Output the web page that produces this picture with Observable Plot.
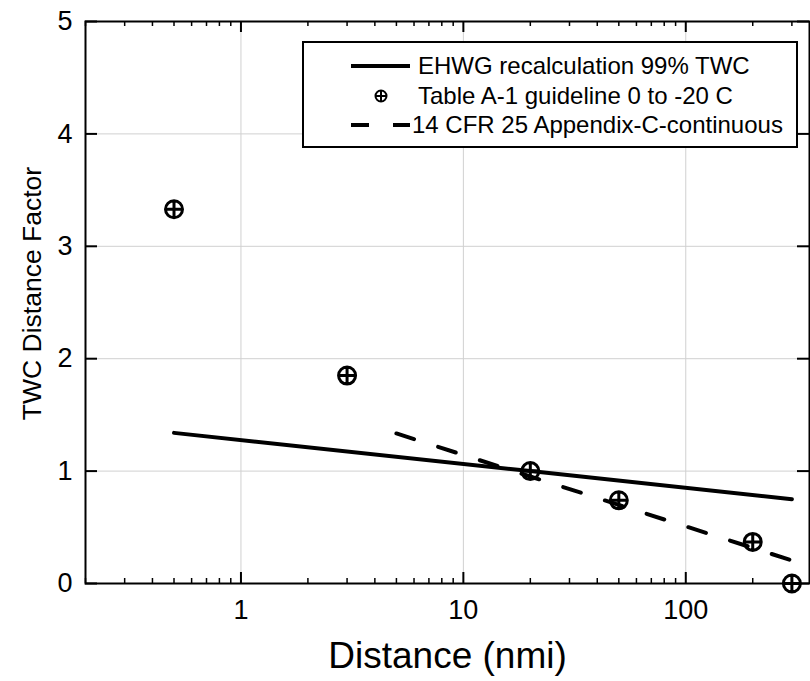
<!DOCTYPE html>
<html><head><meta charset="utf-8">
<script src="https://cdn.jsdelivr.net/npm/d3@7"></script>
<script src="https://cdn.jsdelivr.net/npm/@observablehq/plot@0.6"></script>
<style>
body{margin:0;background:#fff;font-family:"Liberation Sans",Arial,sans-serif;}
#wrap{position:relative;width:810px;height:681px;overflow:hidden;}
#legend{position:absolute;left:302px;top:41px;width:496px;height:107px;border:2px solid #000;background:#fff;box-sizing:border-box;}
#legend svg{display:block;}
</style></head><body>
<div id="wrap"><div id="chart"></div><div id="legend"></div></div>
<script>
// ---- data ----
const seriesNames = ["EHWG recalculation 99% TWC", "Table A-1 guideline 0 to -20 C", "14 CFR 25 Appendix-C-continuous"];
const ehwgDistance = [0.5, 20, 300];
const ehwgFactor = [1.34, 1.0, 0.75];
const tableDistance = [0.5, 3, 20, 50, 200, 300];
const tableFactor = [3.33, 1.85, 1.0, 0.74, 0.37, 0];
const appCDistance = [5, 20, 300];
const appCFactor = [1.335, 0.952, 0.205];
const xMajorTicks = [1, 10, 100];
const yTicks = [0, 1, 2, 3, 4, 5];
const yGrid = [1, 2, 3, 4];
const xTitle = "Distance (nmi)";
const yTitle = "TWC Distance Factor";

const ehwg = ehwgDistance.map((d, i) => ({distance: d, factor: ehwgFactor[i]}));
const table = tableDistance.map((d, i) => ({distance: d, factor: tableFactor[i]}));
const appC = appCDistance.map((d, i) => ({distance: d, factor: appCFactor[i]}));

const W = 810, H = 681, mL = 85, mR = 1, mT = 21, mB = 98;
const plotW = W - mL - mR, plotH = H - mT - mB;
const xDomain = [0.2, 360];
const xMinorTicks = d3.scaleLog().domain(xDomain).ticks().filter(t => !xMajorTicks.includes(t));

const circlePlus = {
  draw(ctx, size) {
    const r = Math.sqrt(size / Math.PI);
    ctx.moveTo(r, 0); ctx.arc(0, 0, r, 0, 2 * Math.PI);
    ctx.moveTo(-r, 0); ctx.lineTo(r, 0);
    ctx.moveTo(0, -r); ctx.lineTo(0, r);
  }
};
const lineW = 4, dash = "18.5,25.3";
const font = "'Liberation Sans', Arial, sans-serif";

const chart = Plot.plot({
  width: W, height: H,
  marginLeft: mL, marginRight: mR, marginTop: mT, marginBottom: mB,
  style: {fontFamily: font, background: "white", color: "black"},
  x: {type: "log", domain: xDomain, axis: null},
  y: {domain: [0, 5], axis: null},
  marks: [
    Plot.ruleX(xMajorTicks, {x: d => d, stroke: "#d0d0d0", strokeWidth: 1}),
    Plot.ruleY(yGrid, {y: d => d, stroke: "#d0d0d0", strokeWidth: 1}),
    // ticks (inward, all four sides)
    Plot.ruleX(xMajorTicks, {x: d => d, insetTop: plotH - 11, stroke: "black", strokeWidth: 2}),
    Plot.ruleX(xMajorTicks, {x: d => d, insetBottom: plotH - 11, stroke: "black", strokeWidth: 2}),
    Plot.ruleX(xMinorTicks, {x: d => d, insetTop: plotH - 5, stroke: "black", strokeWidth: 1.5}),
    Plot.ruleX(xMinorTicks, {x: d => d, insetBottom: plotH - 5, stroke: "black", strokeWidth: 1.5}),
    Plot.ruleY(yTicks, {y: d => d, insetRight: plotW - 12, stroke: "black", strokeWidth: 2}),
    Plot.ruleY(yTicks, {y: d => d, insetLeft: plotW - 12, stroke: "black", strokeWidth: 2}),
    Plot.frame({stroke: "black", strokeWidth: 2}),
    Plot.axisX(xMajorTicks, {tickSize: 0, tickPadding: 16, fontSize: 27, tickFormat: d => String(d), label: null}),
    Plot.axisY(yTicks, {tickSize: 0, tickPadding: 13, fontSize: 27, tickFormat: d => String(d), label: null}),
    Plot.text([xTitle], {frameAnchor: "bottom", dy: 84, fontSize: 37, text: d => d}),
    Plot.text([yTitle], {frameAnchor: "left", textAnchor: "middle", dx: -53, dy: -9, rotate: -90, fontSize: 26.5, text: d => d}),
    // data
    Plot.line(ehwg, {x: "distance", y: "factor", stroke: "black", strokeWidth: lineW}),
    Plot.line(appC, {x: "distance", y: "factor", stroke: "black", strokeWidth: lineW, strokeDasharray: dash}),
    Plot.dot(table, {x: "distance", y: "factor", r: 8.5, symbol: circlePlus, stroke: "black", strokeWidth: 3, fill: "none"})
  ]
});
document.getElementById("chart").appendChild(chart);

// ---- legend ----
const lg = d3.select("#legend").append("svg").attr("width", 492).attr("height", 103)
  .style("font-family", font);
const rowsY = [23, 53, 82];
const fs = 24;
lg.append("line").attr("x1", 47).attr("x2", 106).attr("y1", rowsY[0]).attr("y2", rowsY[0])
  .attr("stroke", "black").attr("stroke-width", lineW);
lg.append("path").attr("transform", `translate(77,${rowsY[1]})`)
  .attr("d", d3.symbol(circlePlus, Math.PI * 5.5 * 5.5)())
  .attr("fill", "none").attr("stroke", "black").attr("stroke-width", 2);
lg.append("line").attr("x1", 47).attr("x2", 106).attr("y1", rowsY[2]).attr("y2", rowsY[2])
  .attr("stroke", "black").attr("stroke-width", lineW).attr("stroke-dasharray", "18,24");
const textX = [114, 114, 108];
seriesNames.forEach((s, i) => {
  lg.append("text").attr("x", textX[i]).attr("y", rowsY[i]).attr("dy", "0.35em")
    .attr("font-size", fs).text(s);
});
</script>
</body></html>
